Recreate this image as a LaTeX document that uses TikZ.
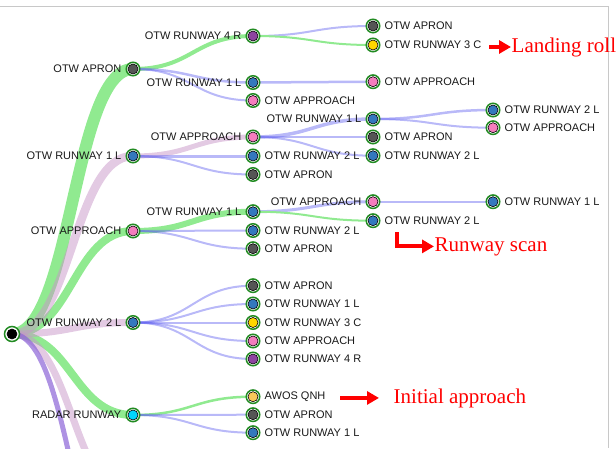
\documentclass[tikz,border=0pt]{standalone}
\usepackage{fontspec}
\setmainfont{Liberation Sans}
\newfontfamily\notefont{Liberation Serif}
\usetikzlibrary{positioning,backgrounds,arrows.meta}

\definecolor{ringgreen}{RGB}{34,139,34}
\definecolor{dotgray}{RGB}{85,85,85}
\definecolor{dotblue}{RGB}{52,120,190}
\definecolor{dotpink}{RGB}{245,125,190}
\definecolor{dotpurple}{RGB}{142,68,160}
\definecolor{dotyellow}{RGB}{255,214,0}
\definecolor{dotcyan}{RGB}{0,214,255}
\definecolor{dotorange}{RGB}{250,200,90}
\definecolor{linkgreen}{RGB}{144,234,144}
\definecolor{linkblue}{RGB}{100,100,240}
\definecolor{linkpink}{RGB}{200,150,200}
\definecolor{linkpurple}{RGB}{140,100,215}
\definecolor{framegray}{RGB}{200,200,200}

\begin{document}
\begin{tikzpicture}[
    x=1pt, y=-1pt,
    dot/.style={circle, draw=ringgreen, line width=1.5pt, fill=white, minimum size=13.5pt, inner sep=0pt,
        path picture={\draw[black, line width=0.6pt, fill=#1] (path picture bounding box.center) circle (5pt);}},
    lbl/.style={font=\fontsize{11}{13}\selectfont, text=black!90, inner sep=0.5pt},
    every label/.style={lbl},
    label distance=3.5pt,
    treelink/.style={line width=#1, to path={.. controls +(60,0) and +(-60,0) .. (\tikztotarget)}},
    glink/.style={treelink=#1, draw=linkgreen},
    blink/.style={treelink=#1, draw=linkblue, draw opacity=0.45},
    plink/.style={treelink=#1, draw=linkpink, draw opacity=0.5},
    ulink/.style={treelink=#1, draw=linkpurple, draw opacity=0.7},
    note/.style={font=\notefont\fontsize{21}{24}\selectfont, text=red, inner sep=0.5pt},
    redarrow/.style={draw=red, line width=4pt, -{Triangle[length=12pt,width=13pt]}}
]
\useasboundingbox (0,0) rectangle (616,448);
\draw[framegray, line width=0.8pt] (0,6) -- (608,6) -- (608,448);

% Tree of gaze transitions
\node[dot=black, minimum size=15pt] (root) at (12,334) {};

\node[dot=dotgray, label=left:OTW APRON] (apron) at (133,69) {};
\node[dot=dotblue, label=left:OTW RUNWAY 1 L] (rwyA) at (133,156) {};
\node[dot=dotpink, label=left:OTW APPROACH] (appr) at (133,231) {};
\node[dot=dotblue, label=left:OTW RUNWAY 2 L] (rwyB) at (133,322.5) {};
\node[dot=dotcyan, label=left:RADAR RUNWAY] (radar) at (133,415) {};
\coordinate (hiddenA) at (133,605);
\coordinate (hiddenB) at (133,500);

\node[dot=dotpurple, label=left:OTW RUNWAY 4 R] (apFourR) at (253,36) {};
\node[dot=dotblue, label=left:OTW RUNWAY 1 L] (apOneL) at (253,82.5) {};
\node[dot=dotpink, label=right:OTW APPROACH] (apAppr) at (253,100.5) {};
\node[dot=dotpink, label=left:OTW APPROACH] (aAppr) at (253,137) {};
\node[dot=dotblue, label=right:OTW RUNWAY 2 L] (aTwoL) at (253,156) {};
\node[dot=dotgray, label=right:OTW APRON] (aApron) at (253,174.5) {};
\node[dot=dotblue, label=left:OTW RUNWAY 1 L] (prOneL) at (253,211.7) {};
\node[dot=dotblue, label=right:OTW RUNWAY 2 L] (prTwoL) at (253,230.5) {};
\node[dot=dotgray, label=right:OTW APRON] (prApron) at (253,248.7) {};
\node[dot=dotgray, label=right:OTW APRON] (bApron) at (253,285.7) {};
\node[dot=dotblue, label=right:OTW RUNWAY 1 L] (bOneL) at (253,304) {};
\node[dot=dotyellow, label=right:OTW RUNWAY 3 C] (bThreeC) at (253,322.5) {};
\node[dot=dotpink, label=right:OTW APPROACH] (bAppr) at (253,341) {};
\node[dot=dotpurple, label=right:OTW RUNWAY 4 R] (bFourR) at (253,359) {};
\node[dot=dotorange, label=right:AWOS QNH] (raAwos) at (253,396.7) {};
\node[dot=dotgray, label=right:OTW APRON] (raApron) at (253,414.7) {};
\node[dot=dotblue, label=right:OTW RUNWAY 1 L] (raOneL) at (253,432.7) {};

\node[dot=dotgray, label=right:OTW APRON] (frApron) at (373,26) {};
\node[dot=dotyellow, label=right:OTW RUNWAY 3 C] (frThreeC) at (373,45) {};
\node[dot=dotpink, label=right:OTW APPROACH] (olAppr) at (373,81.7) {};
\node[dot=dotblue, label=left:OTW RUNWAY 1 L] (aaOneL) at (373,119) {};
\node[dot=dotgray, label=right:OTW APRON] (aaApron) at (373,137) {};
\node[dot=dotblue, label=right:OTW RUNWAY 2 L] (aaTwoL) at (373,155.7) {};
\node[dot=dotpink, label=left:OTW APPROACH] (poAppr) at (373,201.7) {};
\node[dot=dotblue, label=right:OTW RUNWAY 2 L] (poTwoL) at (373,220.7) {};

\node[dot=dotblue, label=right:OTW RUNWAY 2 L] (endTwoL) at (493,110) {};
\node[dot=dotpink, label=right:OTW APPROACH] (endAppr) at (493,127.7) {};
\node[dot=dotblue, label=right:OTW RUNWAY 1 L] (endOneL) at (493,201.7) {};

\begin{scope}[on background layer]
\clip (0,0) rectangle (616,448);
\draw[glink=12pt] (root.center) to (apron.center);
\draw[glink=8pt] (root.center) to (appr.center);
\draw[glink=8pt] (root.center) to (radar.center);
\draw[plink=8.5pt] (root.center) to (rwyA.center);
\draw[plink=7pt] (root.center) to (rwyB.center);
\draw[plink=7pt] (root.center) to (hiddenB);
\draw[ulink=5pt] (root.center) to (hiddenA);

\draw[glink=4pt] (apron.center) to (apFourR.center);
\draw[blink=2.5pt] (apron.center) to (apOneL.center);
\draw[blink=2pt] (apron.center) to (apAppr.center);
\draw[plink=5pt] (rwyA.center) to (aAppr.center);
\draw[blink=3pt] (rwyA.center) to (aTwoL.center);
\draw[blink=2pt] (rwyA.center) to (aApron.center);
\draw[glink=6pt] (appr.center) to (prOneL.center);
\draw[blink=2pt] (appr.center) to (prTwoL.center);
\draw[blink=2pt] (appr.center) to (prApron.center);
\foreach \leaf in {bApron,bOneL,bThreeC,bAppr,bFourR}
  \draw[blink=2pt] (rwyB.center) to (\leaf.center);
\draw[glink=2.5pt] (radar.center) to (raAwos.center);
\draw[blink=2pt] (radar.center) to (raApron.center);
\draw[blink=2pt] (radar.center) to (raOneL.center);

\draw[blink=2pt] (apFourR.center) to (frApron.center);
\draw[glink=2pt] (apFourR.center) to (frThreeC.center);
\draw[blink=2.5pt] (apOneL.center) to (olAppr.center);
\draw[blink=3.5pt] (aAppr.center) to (aaOneL.center);
\draw[blink=2pt] (aAppr.center) to (aaApron.center);
\draw[blink=2pt] (aAppr.center) to (aaTwoL.center);
\draw[blink=3pt] (prOneL.center) to (poAppr.center);
\draw[glink=2pt] (prOneL.center) to (poTwoL.center);

\draw[blink=2.5pt] (aaOneL.center) to (endTwoL.center);
\draw[blink=2pt] (aaOneL.center) to (endAppr.center);
\draw[blink=2pt] (poAppr.center) to (endOneL.center);
\end{scope}

% annotations
\node[note, anchor=base west] (landing) at (511,52) {Landing roll};
\coordinate[left=22pt of landing.west] (landtail);
\draw[redarrow] (landtail) -- (landing.west);

\node[note, anchor=base west] (scan) at (434,251) {Runway scan};
\coordinate (scantail) at (397,232);
\draw[redarrow] (scantail) |- (scan.west);

\node[note, anchor=base west] (initial) at (393,403) {Initial approach};
\coordinate[left=14pt of initial.west] (inithead);
\coordinate[left=39pt of inithead] (inittail);
\draw[redarrow] (inittail) -- (inithead);

\end{tikzpicture}
\end{document}
